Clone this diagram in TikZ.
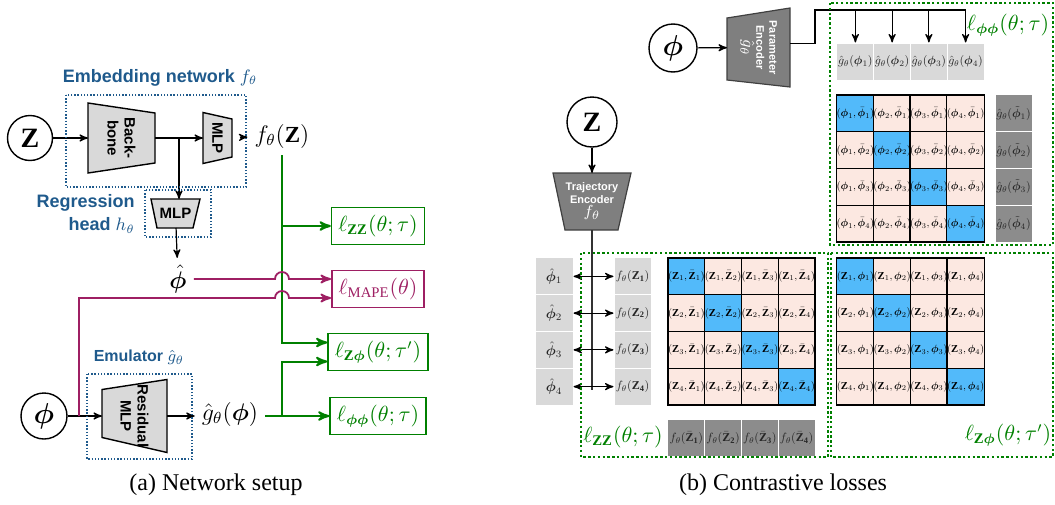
\documentclass[tikz,border=0pt]{standalone}
\usepackage{amsmath}
\usepackage{bm}
\usepackage{graphicx}
\usepackage{fontspec}
\setmainfont{Liberation Serif}
\setsansfont{Liberation Sans}
\usetikzlibrary{arrows,calc}

\definecolor{lossgreen}{RGB}{0,128,0}
\definecolor{mapepurple}{RGB}{158,31,99}
\definecolor{labelblue}{RGB}{31,90,140}
\definecolor{diagblue}{RGB}{82,186,250}
\definecolor{offpink}{RGB}{252,232,225}
\definecolor{lightbox}{RGB}{217,217,217}
\definecolor{darkbox}{RGB}{140,140,140}
\definecolor{encgray}{RGB}{127,127,127}

% small math inside the grid cells
\newcommand{\smallm}[2]{\scalebox{#1}{$#2$}}

\begin{document}
\begin{tikzpicture}[x=0.5pt,y=-0.5pt,>=stealth',semithick]
\tikzstyle{hold}=[inner sep=0pt,outer sep=0pt]
\tikzstyle{blk}=[draw=black,fill=lightbox,line width=0.7pt]
\tikzstyle{enc}=[draw=black!75,fill=encgray,line width=0.6pt]
\tikzstyle{blktext}=[font=\sffamily\bfseries\fontsize{7.5}{8.5}\selectfont,align=center]
\tikzstyle{enctext}=[font=\sffamily\bfseries\fontsize{5.5}{6.5}\selectfont,align=center,text=white]
\tikzstyle{input}=[circle,draw,line width=0.7pt,inner sep=0pt,font=\fontsize{14}{14}\selectfont]
\tikzstyle{netframe}=[draw=labelblue,line width=0.7pt,dash pattern=on 0.7pt off 0.9pt]
\tikzstyle{lossframe}=[draw=lossgreen,line width=1.2pt,dash pattern=on 1.2pt off 1.2pt]
\tikzstyle{netlabel}=[font=\sffamily\bfseries\fontsize{9}{11.5}\selectfont,text=labelblue]
\tikzstyle{loss}=[draw=lossgreen,text=lossgreen,line width=0.8pt,minimum width=45pt,minimum height=18.5pt,font=\fontsize{10.5}{12}\selectfont]
\tikzstyle{mape}=[loss,draw=mapepurple,text=mapepurple]
\tikzstyle{losslab}=[text=lossgreen,font=\fontsize{10.5}{12}\selectfont]
\tikzstyle{grn}=[draw=lossgreen,line width=1pt]
\tikzstyle{prp}=[draw=mapepurple,line width=0.9pt]
\tikzstyle{cell}=[draw=black,line width=0.6pt,minimum size=18.375pt,inner sep=0pt,font=\fontsize{10}{12}\selectfont]
\tikzstyle{lgray}=[fill=lightbox,draw=white,line width=0.5pt,minimum width=18.5pt,minimum height=18.5pt,inner sep=0pt,font=\fontsize{10}{12}\selectfont,text=black!85]
\tikzstyle{dgray}=[lgray,fill=darkbox]
\useasboundingbox (0,0) rectangle (1055,504);

% (a) embedding network
\node[input,minimum size=22.5pt] (z) at (30,138) {$\mathbf{Z}$};
\node[hold,minimum width=33.5pt,minimum height=35pt] (bb) at (121.5,138) {};
\draw[blk] (bb.north west) -- ([yshift=-5pt]bb.north east) -- ([yshift=5pt]bb.south east) -- (bb.south west) -- cycle;
\node[blktext,rotate=-90] at (bb) {Back-\\bone};
\node[hold,minimum width=14.5pt,minimum height=25.5pt] (mlp) at (217.5,138) {};
\draw[blk] (mlp.north west) -- ([yshift=-3.25pt]mlp.north east) -- ([yshift=3.25pt]mlp.south east) -- (mlp.south west) -- cycle;
\node[blktext,rotate=-90] at (mlp) {MLP};
\node[font=\fontsize{11.5}{12}\selectfont] (fz) at (282,136) {$f_\theta(\mathbf{Z})$};
\coordinate (split1) at (179,138);
\node[hold,minimum width=24.5pt,minimum height=14.5pt] (reg) at (175.5,213.5) {};
\draw[blk] (reg.north west) -- (reg.north east) -- ([xshift=-3.5pt]reg.south east) -- ([xshift=3pt]reg.south west) -- cycle;
\node[blktext] at (reg) {MLP};
\node[font=\fontsize{13}{13}\selectfont] (phihat) at (178,279) {$\hat{\bm{\phi}}$};
\draw[->] (z) -- (bb);
\draw[->] (bb) -- (mlp);
\draw[->,shorten <=4pt] (mlp) -- (fz);
\draw[->] (split1) -- (split1 |- reg.north);
\draw[->] (reg) -- (phihat);
\draw[netframe] (66,95) rectangle (246,187);
\draw[netframe] (145,190) rectangle (211,237);
\node[netlabel] (embl) at (160,78) {Embedding network $f_\theta$};
\node[netlabel,align=right,anchor=east] (regl) at (142,214) {Regression\\head $h_\theta$};

% (a) emulator
\node[input,minimum size=23pt] (phi) at (44,416) {$\bm{\phi}$};
\node[hold,minimum width=32.5pt,minimum height=36.5pt] (res) at (134.5,416) {};
\draw[blk] ([yshift=-5pt]res.north west) -- (res.north east) -- (res.south east) -- ([yshift=7.5pt]res.south west) -- cycle;
\node[blktext,rotate=-90] at (res) {Residual\\MLP};
\node[font=\fontsize{11.5}{12}\selectfont] (ghat) at (230,414) {$\hat g_\theta(\bm{\phi})$};
\coordinate (split2) at (79,416);
\draw[->] (phi) -- (res);
\draw[->] (res.east) -- (res.east -| ghat.west);
\draw[netframe] (87,374) rectangle (192,459);
\node[netlabel,font=\sffamily\bfseries\fontsize{8}{10}\selectfont] (emul) at (139,357) {Emulator $\hat g_\theta$};

% (a) losses
\node[loss] (lzz) at (378,226) {$\ell_{\mathbf{ZZ}}(\theta;\tau)$};
\node[mape] (lmape) at (378,289) {$\ell_{\mathrm{MAPE}}(\theta)$};
\node[loss] (lzphi) at (378,352) {$\ell_{\mathbf{Z}\bm{\phi}}(\theta;\tau')$};
\node[loss] (lphiphi) at (378,416) {$\ell_{\bm{\phi\phi}}(\theta;\tau)$};
\coordinate (ghatout) at (ghat.east |- lphiphi.west);
\draw[grn,->] (fz.south) |- ([yshift=4.75pt]lzphi.west);
\draw[grn,->] (fz.south |- lzz.west) -- (lzz.west);
\draw[grn,->] (ghatout) -- (lphiphi.west);
\draw[grn,->] (ghatout -| fz.south) |- ([yshift=-4.75pt]lzphi.west);
\coordinate (mapein) at ([yshift=-4.5pt]lmape.west);
\draw[prp,->] (phihat.east) -- ($(phihat.east -| fz.south)+(-3.5pt,0)$) arc[start angle=180,end angle=0,radius=3.5pt] -- (lmape.west |- phihat.east);
\draw[prp,->] (split2) |- ($(mapein -| fz.south)+(-3.5pt,0)$) arc[start angle=180,end angle=0,radius=3.5pt] -- (mapein);
\node[font=\fontsize{12}{14}\selectfont] (capa) at (216,485) {(a) Network setup};

% (b) parameter branch
\node[input,minimum size=24pt] (phitop) at (673,48) {$\bm{\phi}$};
\node[hold,minimum width=31.5pt,minimum height=39.5pt] (penc) at (758.5,47.5) {};
\draw[enc] ([yshift=-5pt]penc.north west) -- (penc.north east) -- (penc.south east) -- ([yshift=3.5pt]penc.south west) -- cycle;
\node[enctext,rotate=-90] at (penc) {Parameter\\Encoder\\{\fontsize{8}{9}\selectfont$\hat g_\theta$}};
\draw[->] (phitop) -- (penc);
\coordinate (bus) at (815,10);
\foreach \j in {1,...,4}
  \node[lgray] (gt\j) at ({837+(\j-0.5)*36.75},61.5) {\smallm{0.6}{\hat g_\theta(\bm{\phi}_\j)}};
\draw ([yshift=2pt]penc.east) -| (bus) -- (bus -| gt4);
\foreach \j in {1,...,4}
  \draw[->] (bus -| gt\j) -- (gt\j);
\foreach \i in {1,...,4}{
  \node[dgray] (gtt\i) at (1013.5,{95+(\i-0.5)*36.75}) {\smallm{0.6}{\hat g_\theta(\tilde{\bm{\phi}}_\i)}};
  \foreach \j in {1,...,4}{
    \ifnum\i=\j \colorlet{cellc}{diagblue}\else\colorlet{cellc}{offpink}\fi
    \node[cell,fill=cellc] (pp\i\j) at ({837+(\j-0.5)*36.75},{95+(\i-0.5)*36.75}) {\smallm{0.53}{(\bm{\phi}_\j,\bar{\bm{\phi}}_\i)}};
  }
}

% (b) trajectory branch
\node[input,minimum size=25pt] (zr) at (592,122) {$\mathbf{Z}$};
\node[hold,minimum width=39pt,minimum height=28.5pt] (tenc) at (592,201.5) {};
\draw[enc] (tenc.north west) -- (tenc.north east) -- ([xshift=-6.5pt]tenc.south east) -- ([xshift=6pt]tenc.south west) -- cycle;
\node[enctext] at (tenc) {Trajectory\\Encoder\\{\fontsize{8}{9}\selectfont$f_\theta$}};
\draw[->] (zr) -- (tenc);
\foreach \i in {1,...,4}{
  \node[lgray,minimum width=19pt] (ph\i) at (554,{258+(\i-0.5)*36.75}) {\smallm{0.7}{\hat{\bm{\phi}}_\i}};
  \node[lgray] (ft\i) at (632.5,{258+(\i-0.5)*36.75}) {\smallm{0.6}{f_\theta(\mathbf{Z_\i})}};
  \node[dgray] (ftb\i) at ({668+(\i-0.5)*36.75},438) {\smallm{0.6}{f_\theta(\bar{\mathbf{Z}}_{\mathbf{\i}})}};
  \foreach \j in {1,...,4}{
    \ifnum\i=\j \colorlet{cellc}{diagblue}\else\colorlet{cellc}{offpink}\fi
    \node[cell,fill=cellc] (zz\i\j) at ({668+(\j-0.5)*36.75},{258+(\i-0.5)*36.75}) {\smallm{0.53}{(\mathbf{Z}_\i,\bar{\mathbf{Z}}_\j)}};
    \node[cell,fill=cellc] (zp\i\j) at ({837+(\j-0.5)*36.75},{258+(\i-0.5)*36.75}) {\smallm{0.53}{(\mathbf{Z}_\i,\bm{\phi}_\j)}};
  }
}
\draw[black!80,line width=0.8pt] (tenc.south) -- ($(tenc.south |- ph4)+(0,3)$);
\foreach \i in {1,...,4}
  \draw[<->] (ph\i) -- (ft\i);

% (b) loss frames
\draw[lossframe] (830,3) rectangle (1053,245);
\draw[lossframe] (581,253) rectangle (828,457);
\draw[lossframe] (831,253) rectangle (1053,457);
\node[losslab] (lpp) at (1008,25) {$\ell_{\bm{\phi\phi}}(\theta;\tau)$};
\node[losslab] (lzzb) at (623,437) {$\ell_{\mathbf{ZZ}}(\theta;\tau)$};
\node[losslab] (lzpb) at (1008,435) {$\ell_{\mathbf{Z}\bm{\phi}}(\theta;\tau')$};
\node[font=\fontsize{12}{14}\selectfont] (capb) at (783,485) {(b) Contrastive losses};
\end{tikzpicture}
\end{document}
